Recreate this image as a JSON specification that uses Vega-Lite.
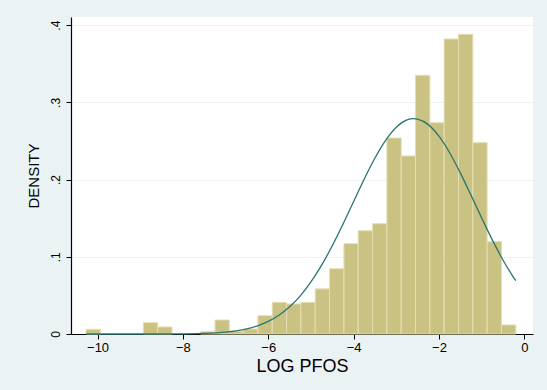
{
  "$schema": "https://vega.github.io/schema/vega-lite/v6.json",
  "width": 462,
  "height": 317,
  "autosize": {"type": "none"},
  "padding": {"left": 71, "top": 17, "right": 14, "bottom": 56},
  "background": "#EAF2F3",
  "config": {
    "font": "Liberation Sans",
    "view": {"fill": "white", "stroke": null}
  },
  "datasets": {
    "bins": [
      {"lo": -10.27, "hi": -9.934, "density": 0.0061},
      {"lo": -8.927, "hi": -8.592, "density": 0.0147},
      {"lo": -8.592, "hi": -8.256, "density": 0.0091},
      {"lo": -7.584, "hi": -7.249, "density": 0.0030},
      {"lo": -7.249, "hi": -6.913, "density": 0.0181},
      {"lo": -6.913, "hi": -6.577, "density": 0.0035},
      {"lo": -6.577, "hi": -6.242, "density": 0.0065},
      {"lo": -6.242, "hi": -5.906, "density": 0.0237},
      {"lo": -5.906, "hi": -5.570, "density": 0.0410},
      {"lo": -5.570, "hi": -5.235, "density": 0.0389},
      {"lo": -5.235, "hi": -4.899, "density": 0.0410},
      {"lo": -4.899, "hi": -4.563, "density": 0.0585},
      {"lo": -4.563, "hi": -4.227, "density": 0.0846},
      {"lo": -4.227, "hi": -3.892, "density": 0.1170},
      {"lo": -3.892, "hi": -3.556, "density": 0.1338},
      {"lo": -3.556, "hi": -3.220, "density": 0.1429},
      {"lo": -3.220, "hi": -2.885, "density": 0.2539},
      {"lo": -2.885, "hi": -2.549, "density": 0.2306},
      {"lo": -2.549, "hi": -2.213, "density": 0.3351},
      {"lo": -2.213, "hi": -1.878, "density": 0.2737},
      {"lo": -1.878, "hi": -1.542, "density": 0.3821},
      {"lo": -1.542, "hi": -1.206, "density": 0.3882},
      {"lo": -1.206, "hi": -0.871, "density": 0.2478},
      {"lo": -0.871, "hi": -0.535, "density": 0.1196},
      {"lo": -0.535, "hi": -0.199, "density": 0.0117}
    ],
    "normal": [
      {"x": -10.27, "y": 0.0},
      {"x": -9.5, "y": 0.000002},
      {"x": -9.0, "y": 0.000012},
      {"x": -8.5, "y": 0.000054},
      {"x": -8.0, "y": 0.000217},
      {"x": -7.5, "y": 0.000769},
      {"x": -7.0, "y": 0.0024},
      {"x": -6.75, "y": 0.00405},
      {"x": -6.5, "y": 0.00664},
      {"x": -6.25, "y": 0.01055},
      {"x": -6.0, "y": 0.01626},
      {"x": -5.75, "y": 0.02428},
      {"x": -5.5, "y": 0.03519},
      {"x": -5.25, "y": 0.04947},
      {"x": -5.0, "y": 0.06744},
      {"x": -4.75, "y": 0.08917},
      {"x": -4.5, "y": 0.1143},
      {"x": -4.25, "y": 0.1422},
      {"x": -4.0, "y": 0.1716},
      {"x": -3.75, "y": 0.2008},
      {"x": -3.5, "y": 0.2279},
      {"x": -3.25, "y": 0.2508},
      {"x": -3.0, "y": 0.2678},
      {"x": -2.75, "y": 0.2773},
      {"x": -2.59, "y": 0.279},
      {"x": -2.5, "y": 0.2784},
      {"x": -2.25, "y": 0.2712},
      {"x": -2.0, "y": 0.2562},
      {"x": -1.75, "y": 0.2348},
      {"x": -1.5, "y": 0.2087},
      {"x": -1.25, "y": 0.1799},
      {"x": -1.0, "y": 0.1504},
      {"x": -0.75, "y": 0.1219},
      {"x": -0.5, "y": 0.0959},
      {"x": -0.25, "y": 0.0731},
      {"x": -0.2, "y": 0.069}
    ]
  },
  "layer": [
    {
      "data": {"name": "bins"},
      "mark": {"type": "rect", "fill": "#CAC283", "stroke": "#E4DEB2", "strokeWidth": 1},
      "encoding": {
        "x": {
          "field": "lo",
          "type": "quantitative",
          "scale": {"domain": [-10.623, 0.204], "nice": false, "zero": false},
          "axis": {
            "values": [-10, -8, -6, -4, -2, 0],
            "title": "LOG PFOS",
            "grid": false,
            "domainColor": "black",
            "domainWidth": 1.2,
            "tickColor": "black",
            "tickSize": 5,
            "labelFontSize": 13,
            "labelColor": "black",
            "labelPadding": 2,
            "titleFontSize": 18,
            "titleFontWeight": "normal",
            "titleColor": "black",
            "titlePadding": 3
          }
        },
        "x2": {"field": "hi"},
        "y": {
          "field": "density",
          "type": "quantitative",
          "scale": {"domain": [0, 0.4106], "nice": false},
          "axis": {
            "values": [0, 0.1, 0.2, 0.3, 0.4],
            "labelExpr": "datum.value == 0 ? '0' : replace(format(datum.value, '.1f'), '0.', '.')",
            "title": "DENSITY",
            "grid": true,
            "gridColor": "#EAF2F3",
            "gridWidth": 1.2,
            "domainColor": "black",
            "domainWidth": 1.2,
            "tickColor": "black",
            "tickSize": 5,
            "labelAngle": 270,
            "labelAlign": "center",
            "labelBaseline": "bottom",
            "labelFontSize": 12,
            "labelColor": "black",
            "labelPadding": 4,
            "titleFontSize": 15,
            "titleFontWeight": "normal",
            "titleColor": "black",
            "titlePadding": 8
          }
        },
        "y2": {"datum": 0}
      }
    },
    {
      "data": {"name": "normal"},
      "mark": {"type": "line", "color": "#2A7570", "strokeWidth": 1.3, "interpolate": "monotone"},
      "encoding": {
        "x": {"field": "x", "type": "quantitative"},
        "y": {"field": "y", "type": "quantitative"}
      }
    }
  ]
}
